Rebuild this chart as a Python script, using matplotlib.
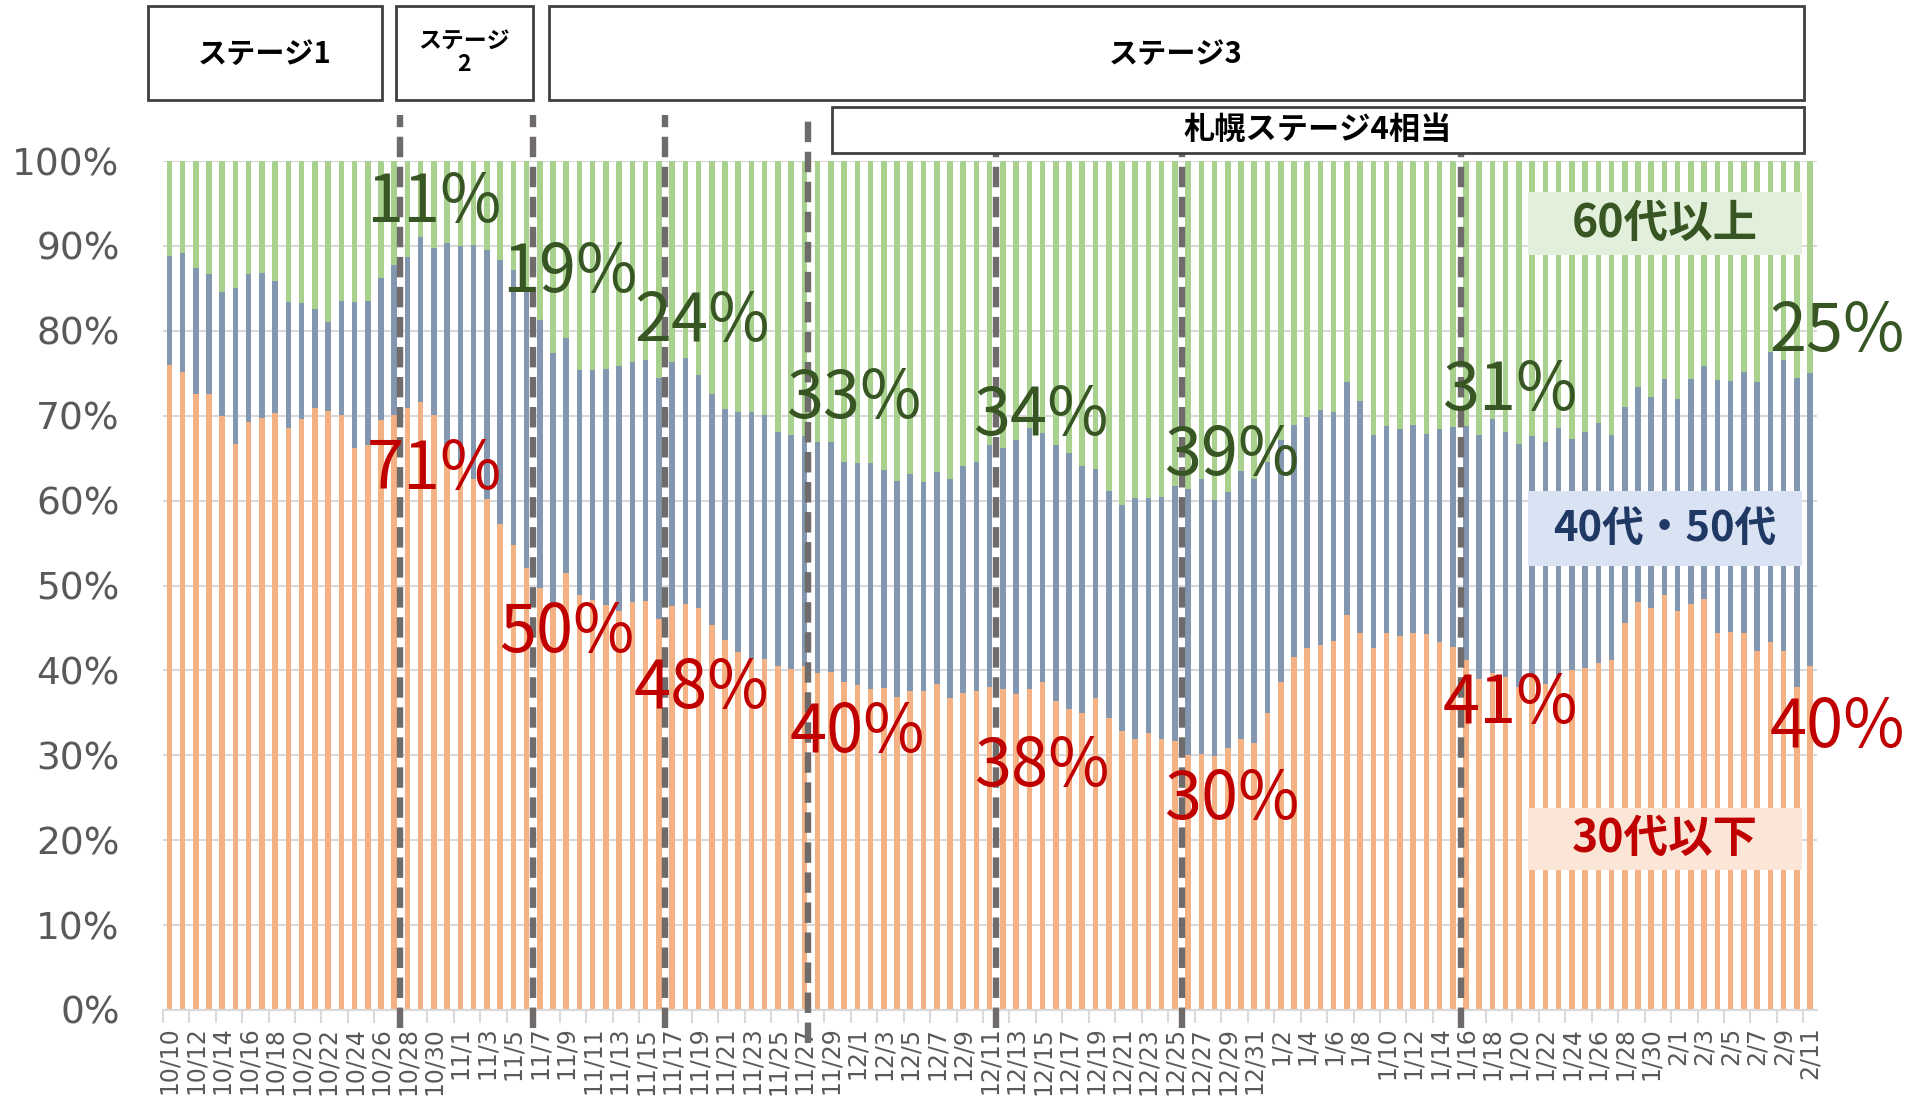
import numpy as np
import pandas as pd
import matplotlib
matplotlib.use("Agg")
import matplotlib.pyplot as plt
from matplotlib.patches import Rectangle
import matplotlib.transforms as mtransforms

plt.rcParams['font.family'] = ['Noto Sans CJK JP', 'DejaVu Sans']

# ---------------- data ----------------
dates = pd.date_range("2020-10-10", "2021-02-11", freq="D")
categories = [f"{d.month}/{d.day}" for d in dates]

young = [  # 30代以下 (%)
    76.0, 75.1, 72.6, 72.6, 70.0, 66.7, 69.3, 69.7, 70.3, 68.5,
    69.6, 70.9, 70.5, 70.1, 66.2, 66.6, 69.5, 70.1, 70.9, 71.6,
    70.1, 66.7, 64.5, 62.6, 60.2, 57.2, 54.8, 52.1, 49.7, 47.9,
    51.5, 48.9, 48.3, 47.7, 47.0, 48.1, 48.2, 46.0, 47.6, 47.8,
    47.3, 45.3, 43.6, 42.2, 41.4, 41.4, 40.5, 40.2, 40.5, 39.7,
    39.8, 38.6, 38.3, 37.8, 37.9, 36.9, 37.6, 37.6, 38.4, 36.7,
    37.3, 37.6, 38.1, 37.8, 37.2, 37.8, 38.6, 36.4, 35.5, 35.0,
    36.7, 34.4, 32.9, 31.9, 32.6, 31.9, 31.7, 30.0, 30.2, 29.9,
    30.9, 31.9, 31.4, 35.0, 38.6, 41.6, 42.6, 43.0, 43.5, 46.5,
    44.4, 42.6, 44.4, 44.0, 44.4, 44.3, 43.3, 42.8, 41.2, 39.0,
    39.7, 39.2, 38.0, 39.2, 38.4, 39.2, 40.0, 40.3, 40.9, 41.2,
    45.6, 48.1, 47.3, 48.9, 47.0, 47.8, 48.4, 44.4, 44.5, 44.4,
    42.3, 43.4, 42.3, 38.0, 40.5,
]
middle = [  # 40代・50代 (%)
    12.8, 14.1, 14.8, 14.1, 14.6, 18.3, 17.4, 17.1, 15.6, 14.9,
    13.7, 11.7, 10.5, 13.4, 17.2, 16.9, 16.7, 17.6, 17.8, 19.4,
    19.7, 23.6, 25.5, 27.5, 29.3, 31.1, 32.4, 32.9, 31.6, 29.5,
    27.6, 26.5, 27.1, 27.8, 28.9, 28.2, 28.4, 28.4, 28.7, 29.0,
    27.5, 27.2, 27.2, 28.2, 29.0, 28.7, 27.6, 27.5, 27.1, 27.2,
    27.1, 26.0, 26.1, 26.6, 25.7, 25.4, 25.5, 24.6, 25.0, 25.9,
    26.8, 27.0, 28.4, 28.4, 29.9, 30.7, 29.4, 30.1, 30.1, 29.1,
    27.0, 26.7, 26.6, 28.4, 27.7, 28.5, 30.0, 31.4, 32.4, 30.2,
    30.1, 31.6, 31.2, 29.6, 28.5, 27.3, 27.3, 27.7, 26.9, 27.5,
    27.3, 25.1, 24.4, 24.4, 24.5, 23.6, 25.1, 25.9, 27.6, 28.7,
    29.9, 28.9, 28.7, 28.4, 28.5, 29.3, 27.2, 27.8, 28.2, 26.5,
    25.4, 25.3, 24.9, 25.4, 25.0, 26.5, 27.5, 29.8, 29.6, 30.7,
    31.7, 34.1, 34.3, 36.4, 34.5,
]
old = [  # 60代以上 (%)
    11.2, 10.8, 12.6, 13.3, 15.4, 15.0, 13.3, 13.2, 14.1, 16.6,
    16.7, 17.4, 19.0, 16.5, 16.6, 16.5, 13.8, 12.3, 11.3, 9.0,
    10.2, 9.7, 10.0, 9.9, 10.5, 11.7, 12.8, 15.0, 18.7, 22.6,
    20.9, 24.6, 24.6, 24.5, 24.1, 23.7, 23.4, 25.6, 23.7, 23.2,
    25.2, 27.5, 29.2, 29.6, 29.6, 29.9, 31.9, 32.3, 32.4, 33.1,
    33.1, 35.4, 35.6, 35.6, 36.4, 37.7, 36.9, 37.8, 36.6, 37.4,
    35.9, 35.4, 33.5, 33.8, 32.9, 31.5, 32.0, 33.5, 34.4, 35.9,
    36.3, 38.9, 40.5, 39.7, 39.7, 39.6, 38.3, 38.6, 37.4, 39.9,
    39.0, 36.5, 37.4, 35.4, 32.9, 31.1, 30.1, 29.3, 29.6, 26.0,
    28.3, 32.3, 31.2, 31.6, 31.1, 32.1, 31.6, 31.3, 31.2, 32.3,
    30.4, 31.9, 33.3, 32.4, 33.1, 31.5, 32.8, 31.9, 30.9, 32.3,
    29.0, 26.6, 27.8, 25.7, 28.0, 25.7, 24.1, 25.8, 25.9, 24.9,
    26.0, 22.5, 23.4, 25.6, 25.0,
]

# stage change markers (bar index where the dashed line is drawn)
marker_pos = [17.4, 27.5, 37.5, 48.3, 62.45, 76.55, 97.6]
marker_top_px = [115, 115, 115, 115, 153, 153, 153]
marker_bot_px = [1028, 1028, 1028, 1043, 1028, 1028, 1028]

# annotated percentages: (text, x px, y px)
old_labels = [("11%", 434, 203), ("19%", 570, 273), ("24%", 702, 322), ("33%", 854, 399),
              ("34%", 1041, 416), ("39%", 1232, 456), ("31%", 1510, 391), ("25%", 1837, 332)]
young_labels = [("71%", 434, 470), ("50%", 567, 633), ("48%", 701, 689), ("40%", 857, 733),
                ("38%", 1042, 767), ("30%", 1232, 800), ("41%", 1510, 704), ("40%", 1837, 728)]

# ---------------- figure ----------------
W, H = 1905, 1101
fig = plt.figure(figsize=(W / 100, H / 100), dpi=100)
fig.patch.set_facecolor("white")

x0_px, x1_px = 162.7, 1816.6
y_top_px, y_bot_px = 161, 1010
ax = fig.add_axes([x0_px / W, 1 - y_bot_px / H, (x1_px - x0_px) / W, (y_bot_px - y_top_px) / H])

x = np.arange(len(categories))
young_a = np.array(young)
mid_a = np.array(middle)
old_a = np.array(old)
bw = 0.42
c_young, c_mid, c_old = "#F4B183", "#8497B0", "#A9D18E"
ax.bar(x, young_a, width=bw, color=c_young, zorder=2)
ax.bar(x, mid_a, bottom=young_a, width=bw, color=c_mid, zorder=2)
ax.bar(x, old_a, bottom=young_a + mid_a, width=bw, color=c_old, zorder=2)

ax.set_xlim(-0.5, len(categories) - 0.5)
ax.set_ylim(0, 100)
ax.set_yticks(np.arange(0, 101, 10))
ax.set_yticklabels([f"{v}%" for v in range(0, 101, 10)], fontsize=27, color="#595959",
                   family=['DejaVu Sans'])
ax.yaxis.grid(True, color="#D9D9D9", lw=1.5, zorder=0)
ax.set_axisbelow(True)
ax.tick_params(axis="y", length=0, pad=31)
for s in ["left", "right", "top"]:
    ax.spines[s].set_visible(False)
ax.spines["bottom"].set_color("#D9D9D9")
ax.spines["bottom"].set_linewidth(1.5)

tick_idx = x[::2]
ax.set_xticks(tick_idx)
ax.set_xticklabels([categories[i] for i in tick_idx], rotation=90, fontsize=17,
                   color="#595959", family=['DejaVu Sans'], va="top")
ax.tick_params(axis="x", length=0, pad=12)
ax.set_xticks(np.arange(-0.5, len(categories), 2), minor=True)
ax.tick_params(axis="x", which="minor", length=9, color="#D9D9D9", width=1.5)

# dashed stage lines
trans = mtransforms.blended_transform_factory(ax.transData, ax.transAxes)
for p, tp, bp in zip(marker_pos, marker_top_px, marker_bot_px):
    yt = (y_bot_px - tp) / (y_bot_px - y_top_px)
    yb = (y_bot_px - bp) / (y_bot_px - y_top_px)
    ax.plot([p, p], [yb, yt], transform=trans, color="#6F6B6B", lw=4.6,
            linestyle=(0, (3.2, 1.5)), clip_on=False, zorder=5, solid_capstyle="butt")

# percentage annotations
for t, px, py in old_labels:
    fig.text(px / W, 1 - py / H, t, ha="center", va="center", fontsize=48, color="#375623",
             zorder=10)
for t, px, py in young_labels:
    fig.text(px / W, 1 - py / H, t, ha="center", va="center", fontsize=48, color="#C00000",
             zorder=10)


def fig_box(x0, y0, x1, y1, fc="white", ec="#404040", lw=2.0):
    r = Rectangle((x0 / W, 1 - y1 / H), (x1 - x0) / W, (y1 - y0) / H,
                  transform=fig.transFigure, facecolor=fc, edgecolor=ec, lw=lw, zorder=20)
    fig.add_artist(r)


# stage boxes
fig_box(148, 6, 382, 100)
fig.text(265 / W, 1 - 54 / H, "ステージ1", ha="center", va="center", fontsize=21,
         fontweight="bold", zorder=21)
fig_box(396, 6, 533, 100)
fig.text(464 / W, 1 - 53 / H, "ステージ\n2", ha="center", va="center", fontsize=16.5,
         fontweight="bold", linespacing=1.0, zorder=21)
fig_box(549, 6, 1804, 100)
fig.text(1176 / W, 1 - 54 / H, "ステージ3", ha="center", va="center", fontsize=21,
         fontweight="bold", zorder=21)
fig_box(832, 107, 1804, 153)
fig.text(1318 / W, 1 - 130 / H, "札幌ステージ4相当", ha="center", va="center", fontsize=22.5,
         fontweight="bold", zorder=21)

# legend boxes
legend_items = [("60代以上", 192, 255, "#E2EFDA", "#375623", 32),
                ("40代・50代", 491, 566, "#DAE3F3", "#1F3864", 30),
                ("30代以下", 808, 870, "#FBE5D6", "#C00000", 32)]
for t, y0, y1, fc, tc, fs in legend_items:
    fig_box(1528, y0, 1802, y1, fc=fc, ec="none", lw=0)
    fig.text(1665 / W, 1 - (y0 + y1) / 2 / H, t, ha="center", va="center", fontsize=fs,
             fontweight="bold", color=tc, zorder=21)

fig.savefig("out.png", dpi=100)
